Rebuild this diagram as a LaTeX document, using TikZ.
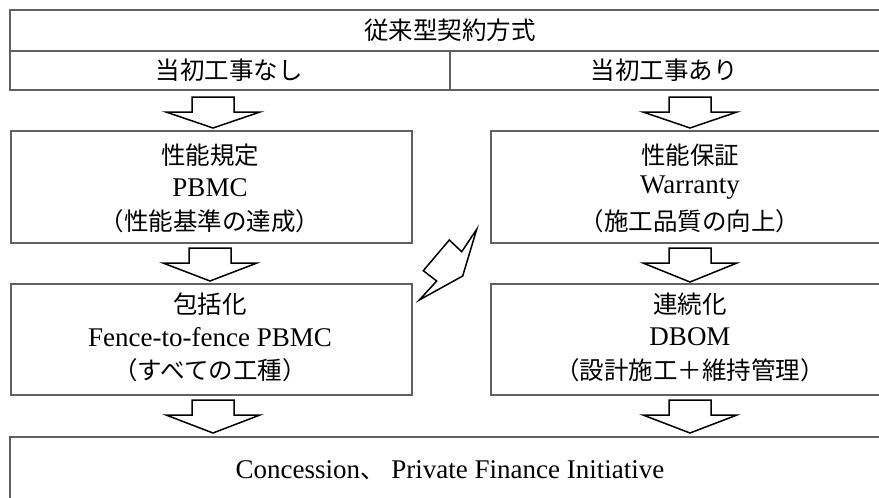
\documentclass[tikz,border=0pt]{standalone}
\usepackage{fontspec}
\setmainfont{Liberation Serif}
\newfontfamily\jpfont{Noto Sans CJK JP}
\newcommand\Jt[1]{{\jpfont\fontsize{24.5}{28}\selectfont #1}}
\newcommand\Lt[1]{{\fontsize{27}{32}\selectfont #1}}
\begin{document}
\begin{tikzpicture}[x=1pt,y=-1pt,
  boxline/.style={draw=black!62,line width=1.6pt},
  txt/.style={inner sep=0pt,anchor=center},
  blockarrow/.style={draw=black,line width=1.5pt,fill=white,line join=miter}]
\useasboundingbox (0,0) rectangle (879,498);
\clip (0,0) rectangle (879,498);
% header
\node[boxline,minimum width=882pt,minimum height=80pt,inner sep=0pt,anchor=north west] (head) at (9,9) {};
\draw[boxline] (9,51) -- (891,51);
\coordinate (div) at (450,51);
\draw[boxline] (div) -- (450,89);
\node[txt] (title) at (450,30) {\Jt{従来型契約方式}};
\node[txt] (nocon) at (229,70) {\Jt{当初工事なし}};
\node[txt] (withcon) at (664,70) {\Jt{当初工事あり}};
% boxes
\node[boxline,minimum width=401pt,minimum height=112pt,inner sep=0pt,anchor=north west] (L1) at (10,130) {};
\node[boxline,minimum width=401pt,minimum height=112pt,inner sep=0pt,anchor=north west] (R1) at (490,130) {};
\node[boxline,minimum width=401pt,minimum height=111pt,inner sep=0pt,anchor=north west] (L2) at (10,283) {};
\node[boxline,minimum width=401pt,minimum height=111pt,inner sep=0pt,anchor=north west] (R2) at (490,283) {};
\node[boxline,minimum width=882pt,minimum height=80pt,inner sep=0pt,anchor=north west] (B) at (9,436) {};
% texts
\node[txt] (L1a) at (210,155) {\Jt{性能規定}};
\node[txt] (L1b) at (210,188) {\Lt{PBMC}};
\node[txt] (L1c) at (210,221) {\Jt{（性能基準の達成）}};
\node[txt] (R1a) at (690,155) {\Jt{性能保証}};
\node[txt] (R1b) at (690,188) {\Lt{Warranty}};
\node[txt] (R1c) at (690,221) {\Jt{（施工品質の向上）}};
\node[txt] (L2a) at (210,304) {\Jt{包括化}};
\node[txt] (L2b) at (210,337) {\Lt{Fence-to-fence PBMC}};
\node[txt] (L2c) at (210,370) {\Jt{（すべての工種）}};
\node[txt] (R2a) at (690,304) {\Jt{連続化}};
\node[txt] (R2b) at (690,337) {\Lt{DBOM}};
\node[txt] (R2c) at (690,370) {\Jt{（設計施工＋維持管理）}};
\node[txt] (Bt) at (450,470) {\Lt{Concession\Jt{、}\ Private Finance Initiative}};
% block arrows (shaft width 42, head width 94)
\newcommand\barrow[3]{%
  \draw[blockarrow] (#1-21,#2) -- (#1+21,#2) -- (#1+21,#2+15) -- (#1+47,#2+15)
    -- (#1,#3) -- (#1-47,#2+15) -- (#1-21,#2+15) -- cycle;}
\barrow{213}{97}{128}
\barrow{690}{97}{128}
\barrow{210}{248}{281}
\barrow{690}{248}{282}
\barrow{213}{400}{433}
\barrow{690}{400}{433}
% lightning arrow
\draw[blockarrow,line join=miter] (476.7,229.3) -- (461.7,251.7) -- (449.3,240) -- (423.3,270.7)
  -- (436.7,281) -- (419.3,300) -- (462.7,276) -- cycle;
\end{tikzpicture}
\end{document}
